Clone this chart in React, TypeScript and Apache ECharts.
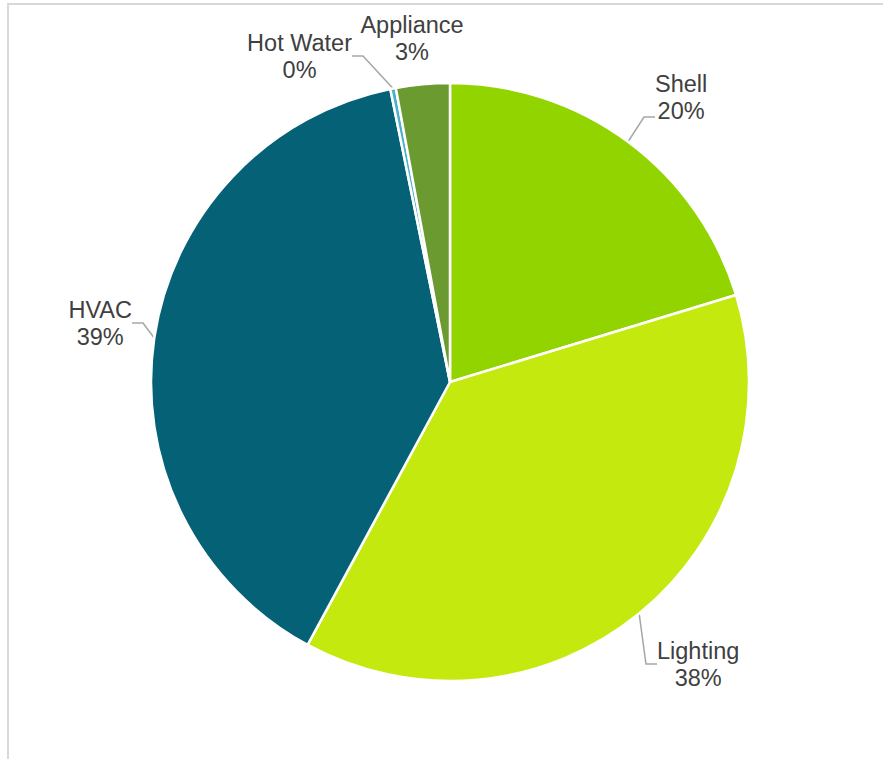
import React, { useEffect, useRef } from "react";
import * as echarts from "echarts";

const categories = ["Shell", "Lighting", "HVAC", "Hot Water", "Appliance"];
const values = [20.3, 37.6, 38.9, 0.3, 2.9];
const colors = ["#92D400", "#C4E90F", "#056176", "#4BB0CC", "#6B9A30"];

// label block placement (layout only)
const labelPlacement: Record<string, { x: number; y: number; align: string; pb: number; line: boolean }> = {
  Shell: { x: 655, y: 70, align: "left", pb: 40, line: true },
  Lighting: { x: 657, y: 637, align: "left", pb: 0, line: true },
  HVAC: { x: 132, y: 296, align: "right", pb: 0, line: true },
  "Hot Water": { x: 352, y: 29, align: "right", pb: 0, line: true },
  Appliance: { x: 412, y: 11, align: "center", pb: 0, line: false },
};

export default function App() {
  const ref = useRef<HTMLDivElement>(null);
  useEffect(() => {
    if (!ref.current) return;
    const chart = echarts.init(ref.current, null, { renderer: "svg" });
    const data = categories.map((name, i) => ({
      name,
      value: values[i],
      itemStyle: { color: colors[i] },
      label: { padding: [0, 0, labelPlacement[name].pb, 0] },
      labelLine: { show: labelPlacement[name].line },
    }));
    chart.setOption({
      animation: false,
      backgroundColor: "#ffffff",
      graphic: [
        { type: "rect", shape: { x: 7, y: 3, width: 2, height: 756 }, style: { fill: "#d9d9d9" } },
        { type: "rect", shape: { x: 7, y: 3, width: 876, height: 2 }, style: { fill: "#d9d9d9" } },
      ],
      series: [
        {
          type: "pie",
          center: [450, 382],
          radius: 299,
          startAngle: 90,
          clockwise: true,
          data,
          itemStyle: { borderColor: "#ffffff", borderWidth: 2.5 },
          label: {
            show: true,
            position: "outside",
            formatter: (p: any) => `{c|${p.name}}\n{c|${Math.round(p.percent)}%}`,
            backgroundColor: "rgba(255,255,255,0)",
            rich: {
              c: {
                align: "center",
                fontFamily: "'Liberation Sans', Arial, sans-serif",
                fontSize: 23.5,
                lineHeight: 27,
                color: "#404040",
              },
            },
          },
          labelLine: {
            show: true,
            length: 20,
            length2: 11,
            lineStyle: { color: "#a6a6a6", width: 1.5 },
          },
          labelLayout: (params: any) => {
            const name = categories[params.dataIndex];
            const pl = labelPlacement[name];
            return { x: pl.x, y: pl.y, align: pl.align, verticalAlign: "top" };
          },
        },
      ],
    });
    return () => chart.dispose();
  }, []);
  return (
    <div
      ref={ref}
      style={{ position: "absolute", left: 0, top: 0, width: 883, height: 759 }}
    />
  );
}
